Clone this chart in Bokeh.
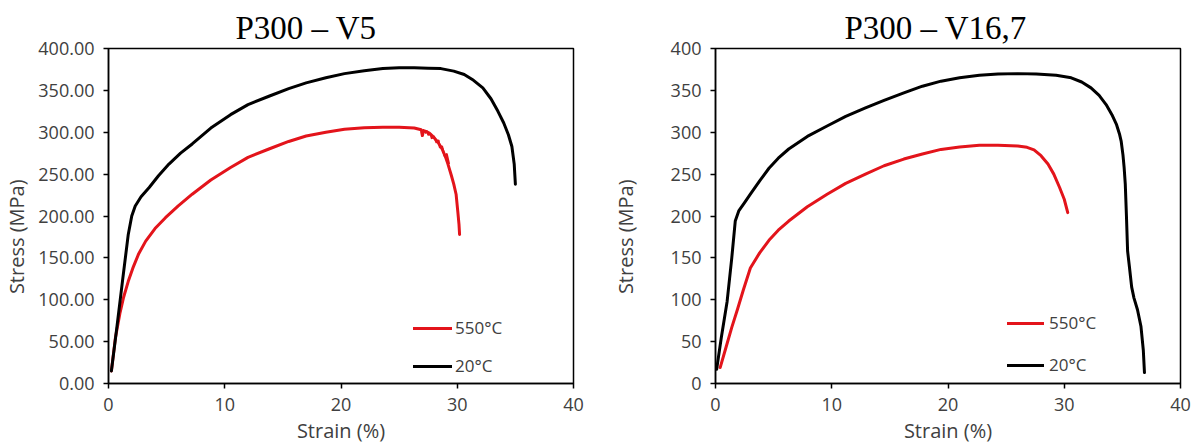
from bokeh.plotting import figure
from bokeh.models import (Range1d, FixedTicker, NumeralTickFormatter,
                          Legend, LegendItem, BasicTickFormatter)
from bokeh.layouts import row
from bokeh.embed import file_html
from bokeh.resources import INLINE

# ---------------- data ----------------
x_ticks = [0, 10, 20, 30, 40]
y_ticks = [0, 50, 100, 150, 200, 250, 300, 350, 400]

titles = ["P300 – V5", "P300 – V16,7"]
series_labels = ["550°C", "20°C"]
x_label = "Strain (%)"
y_label = "Stress (MPa)"

# Left panel (P300 - V5)
v5_20_x = [0.25, 0.7, 1.2, 1.7, 2.0, 2.3, 2.8, 3.5, 4.3, 5.2, 6.2, 7.2, 8.8, 10.5, 12.0, 13.8,
           15.5, 17.0, 18.7, 20.3, 22.0, 23.6, 25.0, 26.3, 27.5, 28.6, 29.7, 30.6, 31.4, 32.2,
           32.9, 33.5, 34.0, 34.4, 34.7, 34.9, 35.0]
v5_20_y = [15, 65, 122, 178, 200, 212, 223, 234, 248, 262, 275, 286, 305, 321, 333, 343,
           352, 359, 365, 370, 373.5, 376, 377, 377, 376.5, 376, 373, 369, 362, 353,
           340, 325, 311, 297, 283, 262, 238]

v5_550_x = [0.25, 0.6, 1.0, 1.3, 1.7, 2.1, 2.6, 3.2, 4.0, 4.9, 6.0, 7.2, 8.8, 10.5, 12.0, 13.8,
            15.5, 17.0, 18.7, 20.3, 22.0, 23.6, 25.0, 26.3, 26.9, 27.0, 27.1, 27.3, 27.6, 27.9,
            28.3, 28.7, 29.0, 29.2, 29.5, 29.7, 29.9, 30.05, 30.15, 30.2]
v5_550_y = [15, 55, 85, 103, 122, 138, 155, 170, 185, 198, 212, 226, 243, 258, 270, 280,
            289, 295.5, 300, 303.5, 305.5, 306, 306, 305, 303, 296, 302, 301, 299, 295,
            289, 280, 270, 262, 248, 238, 226, 205, 190, 178]

v5_550_noise_x = [27.2, 27.4, 27.5, 27.7, 27.8, 28.0, 28.2, 28.4, 28.5, 28.7, 28.9, 29.1, 29.3]
v5_550_noise_y = [299, 301, 297, 298, 293, 295, 288, 290, 282, 283, 272, 274, 262]

# Right panel (P300 - V16,7)
v16_20_x = [0.1, 0.5, 1.0, 1.4, 1.7, 2.0, 2.5, 3.0, 3.8, 4.6, 5.4, 6.3, 7.9, 9.6, 11.2, 12.9,
            14.5, 16.2, 17.8, 19.4, 21.0, 22.7, 24.3, 26.0, 27.6, 29.3, 30.6, 31.5, 32.3, 33.0,
            33.6, 34.1, 34.5, 34.75, 34.9, 35.05, 35.15, 35.25, 35.35, 35.45, 35.6, 35.8, 36.0,
            36.3, 36.6, 36.8, 36.9]
v16_20_y = [17, 55, 98, 150, 194, 206, 216, 226, 242, 257, 269, 280, 295, 307.5, 319, 329,
            338, 347, 355, 361, 365, 368, 369.5, 370, 369.5, 368, 365, 360, 353, 344,
            333, 321, 309, 298, 289, 273, 258, 238, 200, 158, 140, 115, 102,
            88, 68, 40, 13]

v16_550_x = [0.4, 0.9, 1.4, 1.9, 2.4, 3.0, 3.8, 4.6, 5.4, 6.3, 7.9, 9.6, 11.2, 12.9, 14.5, 16.2,
             17.8, 19.4, 21.0, 22.7, 24.3, 26.0, 26.8, 27.4, 28.0, 28.6, 29.1, 29.6, 30.0, 30.3]
v16_550_y = [19, 43, 67, 89, 112, 138, 156, 171, 183, 194, 211, 226, 239, 250, 260, 268,
             274, 279.5, 282.5, 284.5, 284.5, 283.5, 282, 279, 272, 262, 250, 234, 220, 204]

RED = "#e3141b"
BLACK = "#000000"
TXT = "#404040"
SANS = "Open Sans"


def make_panel(width, border_left, border_right, title, ytick_fmt, curves, noise,
               legend_xy, legend_spacing, glyph_w, standoff, title_off, ylab_standoff):
    p = figure(width=width, height=447, output_backend="svg", toolbar_location=None,
               x_range=Range1d(0, 40), y_range=Range1d(0, 400),
               min_border_left=border_left, min_border_right=border_right,
               min_border_top=48, min_border_bottom=64)
    p.xgrid.visible = False
    p.ygrid.visible = False
    p.outline_line_color = BLACK
    p.outline_line_width = 1.5
    p.background_fill_color = "white"

    p.title.text = title
    p.title.align = "left"
    p.title.offset = title_off
    p.title.text_font = "Liberation Serif"
    p.title.text_font_size = "33px"
    p.title.text_font_style = "normal"
    p.title.text_color = BLACK
    p.title.standoff = 5

    for ax in (p.xaxis[0], p.yaxis[0]):
        ax.axis_line_color = BLACK
        ax.axis_line_width = 1.5
        ax.major_tick_line_color = BLACK
        ax.major_tick_line_width = 1.5
        ax.major_tick_out = 5
        ax.major_tick_in = 0
        ax.minor_tick_out = 0
        ax.minor_tick_in = 0
        ax.major_label_text_font = SANS
        ax.major_label_text_font_size = "18px"
        ax.major_label_text_color = TXT
        ax.major_label_standoff = 9
        ax.axis_label_text_font = SANS
        ax.axis_label_text_font_size = "20px"
        ax.axis_label_text_font_style = "normal"
        ax.axis_label_text_color = TXT
    p.xaxis.ticker = FixedTicker(ticks=x_ticks)
    p.yaxis.ticker = FixedTicker(ticks=y_ticks)
    p.yaxis.formatter = ytick_fmt
    p.xaxis.axis_label = x_label
    p.xaxis.axis_label_standoff = 3
    # trailing no-break spaces shift the rotated label slightly downward as in the original
    p.yaxis.axis_label = y_label + "\u00a0" * 8
    p.yaxis.axis_label_standoff = ylab_standoff

    renderers = []
    for (xs, ys, col) in curves:
        r = p.line(xs, ys, line_color=col, line_width=3, line_join="round", line_cap="round")
        renderers.append(r)
    if noise is not None:
        p.line(noise[0], noise[1], line_color=RED, line_width=2, line_join="round")

    legend = Legend(items=[LegendItem(label=series_labels[0], renderers=[renderers[0]]),
                           LegendItem(label=series_labels[1], renderers=[renderers[1]])],
                    location=legend_xy, padding=0, margin=0, spacing=legend_spacing,
                    glyph_width=glyph_w, glyph_height=22, label_height=22,
                    label_standoff=standoff, border_line_alpha=0, background_fill_alpha=0,
                    label_text_font=SANS, label_text_font_size="17px",
                    label_text_color=TXT)
    p.add_layout(legend)
    return p


p1 = make_panel(608, 108, 35, titles[0], NumeralTickFormatter(format="0.00"),
                [(v5_550_x, v5_550_y, RED), (v5_20_x, v5_20_y, BLACK)],
                (v5_550_noise_x, v5_550_noise_y), (305, 6), 15, 39, 3, 127, 5)
p2 = make_panel(585, 106, 13, titles[1], BasicTickFormatter(),
                [(v16_550_x, v16_550_y, RED), (v16_20_x, v16_20_y, BLACK)],
                None, (292, 7), 19, 37, 5, 129, 29)

layout = row(p1, p2)
open("out.html", "w").write(file_html(layout, INLINE))
